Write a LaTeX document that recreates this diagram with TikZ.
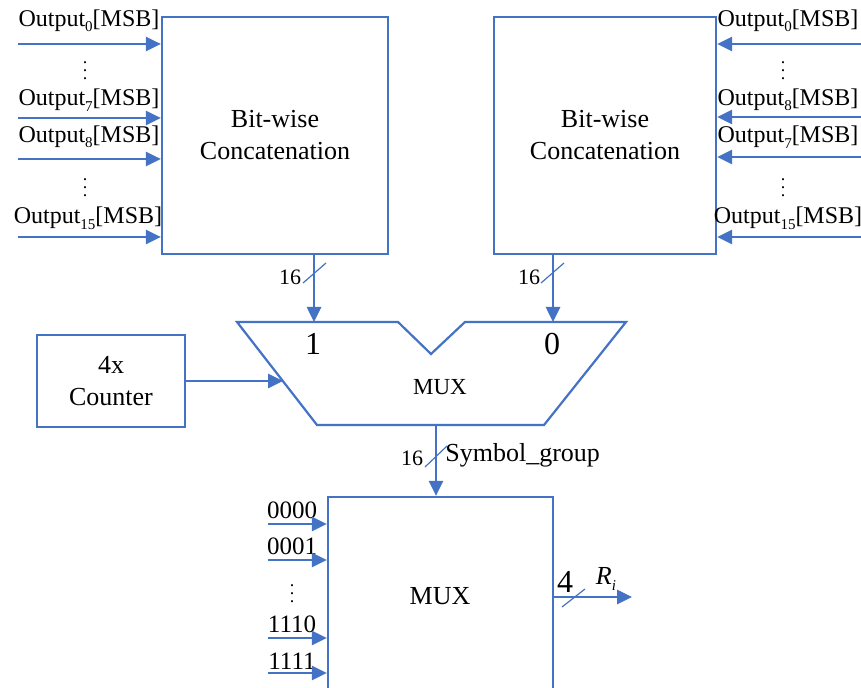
\documentclass[tikz,border=0pt]{standalone}
\usepackage{fontspec}
\setmainfont{Liberation Serif}
\usetikzlibrary{arrows.meta}
\definecolor{lineblue}{HTML}{4472C4}
\newcommand{\subidx}[1]{\raisebox{-0.5ex}{\fontsize{7.5}{8}\selectfont #1}}

\begin{document}
\begin{tikzpicture}[x=0.5pt, y=-0.5pt,
  blk/.style={draw=lineblue, line width=1.1pt},
  wire/.style={draw=lineblue, line width=1.3pt, -{Triangle[length=7.5pt,width=7pt]}},
  busmark/.style={draw=lineblue, line width=0.6pt},
  lbl/.style={inner sep=0pt, font=\fontsize{12}{14}\selectfont},
  dots/.style={inner sep=0pt, font=\fontsize{9}{10}\selectfont}]
\clip (0,0) rectangle (861,688);
\fill[white] (0,0) rectangle (861,688);
\node[blk, minimum width=113pt, minimum height=118.5pt, align=center, font=\fontsize{13}{16}\selectfont] (lcat) at (275,135.5) {Bit-wise\\Concatenation};
\node[blk, minimum width=111pt, minimum height=118.5pt, align=center, font=\fontsize{13}{16}\selectfont] (rcat) at (605,135.5) {Bit-wise\\Concatenation};
\node[blk, minimum width=74pt, minimum height=46pt, align=center, font=\fontsize{13}{16}\selectfont] (cnt) at (111,381) {4x\\Counter};
\node[blk, minimum width=112.5pt, minimum height=123pt, font=\fontsize{13}{16}\selectfont] (bmux) at (440.5,620) {};
\node[inner sep=0pt, font=\fontsize{13}{16}\selectfont] (bmuxtxt) at (440,596) {MUX};
% trapezoid mux
\draw[blk] (237,322) -- (398,322) -- (431,354) -- (465,322) -- (626,322) -- (544,425) -- (317,425) -- cycle;
\node[inner sep=0pt, font=\fontsize{11.5}{14}\selectfont] (tmux) at (440,387) {MUX};
\node[inner sep=0pt, font=\fontsize{16}{18}\selectfont] (one) at (313,344) {1};
\node[inner sep=0pt, font=\fontsize{16}{18}\selectfont] (zero) at (552,344) {0};
\coordinate (muxin1) at (314,322);
\coordinate (muxin0) at (553,322);
\coordinate (muxsel) at (283,381);
\coordinate (muxout) at (436,425);
% left inputs
\node[lbl] (l0) at (89,21) {Output\subidx{0}[MSB]};
\node[dots] (ld1) at (85,65) {$\vdots$};
\node[lbl] (l7) at (89,100) {Output\subidx{7}[MSB]};
\node[lbl] (l8) at (89,137) {Output\subidx{8}[MSB]};
\node[dots] (ld2) at (85,182) {$\vdots$};
\node[lbl] (l15) at (88,218) {Output\subidx{15}[MSB]};
\coordinate (li0) at (18,44);
\coordinate (li7) at (18,118);
\coordinate (li8) at (18,159);
\coordinate (li15) at (18,237);
\draw[wire] (li0) -- (li0 -| lcat.west);
\draw[wire] (li7) -- (li7 -| lcat.west);
\draw[wire] (li8) -- (li8 -| lcat.west);
\draw[wire] (li15) -- (li15 -| lcat.west);
% right inputs
\node[lbl] (r0) at (788,21) {Output\subidx{0}[MSB]};
\node[dots] (rd1) at (783,65) {$\vdots$};
\node[lbl] (r8) at (788,100) {Output\subidx{8}[MSB]};
\node[lbl] (r7) at (788,137) {Output\subidx{7}[MSB]};
\node[dots] (rd2) at (783,182) {$\vdots$};
\node[lbl] (r15) at (788,218) {Output\subidx{15}[MSB]};
\coordinate (ri0) at (861,44);
\coordinate (ri8) at (861,117);
\coordinate (ri7) at (861,157);
\coordinate (ri15) at (861,237);
\draw[wire] (ri0) -- (ri0 -| rcat.east);
\draw[wire] (ri8) -- (ri8 -| rcat.east);
\draw[wire] (ri7) -- (ri7 -| rcat.east);
\draw[wire] (ri15) -- (ri15 -| rcat.east);
% buses into mux
\draw[wire] (muxin1 |- lcat.south) -- (muxin1);
\draw[wire] (muxin0 |- rcat.south) -- (muxin0);
\draw[busmark] (303,283) -- (326,263);
\draw[busmark] (541,283) -- (564,263);
\node[lbl, font=\fontsize{11}{13}\selectfont] (w1) at (290,277) {16};
\node[lbl, font=\fontsize{11}{13}\selectfont] (w0) at (529,277) {16};
\draw[wire] (cnt.east |- muxsel) -- (muxsel);
% symbol group
\draw[wire] (muxout) -- (muxout |- bmux.north);
\draw[busmark] (425,467) -- (447,446);
\node[lbl, font=\fontsize{11}{13}\selectfont] (ws) at (412,458) {16};
\node[lbl, font=\fontsize{13}{16}\selectfont, anchor=west] (sg) at (445,455) {Symbol\_group};
% bottom mux inputs
\node[lbl, font=\fontsize{12.5}{15}\selectfont] (b0) at (292,510) {0000};
\node[lbl, font=\fontsize{12.5}{15}\selectfont] (b1) at (292,546) {0001};
\node[dots] (bd) at (292,588) {$\vdots$};
\node[lbl, font=\fontsize{12.5}{15}\selectfont] (b14) at (292,624) {1110};
\node[lbl, font=\fontsize{12.5}{15}\selectfont] (b15) at (292,661) {1111};
\coordinate (bi0) at (268,524);
\coordinate (bi1) at (268,560);
\coordinate (bi14) at (268,638);
\coordinate (bi15) at (268,673);
\draw[wire] (bi0) -- (bi0 -| bmux.west);
\draw[wire] (bi1) -- (bi1 -| bmux.west);
\draw[wire] (bi14) -- (bi14 -| bmux.west);
\draw[wire] (bi15) -- (bi15 -| bmux.west);
% output
\coordinate (rout) at (632,597);
\draw[wire] (rout -| bmux.east) -- (rout);
\draw[busmark] (562,607) -- (585,589);
\node[lbl, font=\fontsize{16}{18}\selectfont] (four) at (565,582) {4};
\node[lbl, font=\fontsize{13}{16}\selectfont] (rlbl) at (606,579) {\textit{R}\subidx{\textit{i}}};
\end{tikzpicture}
\end{document}
